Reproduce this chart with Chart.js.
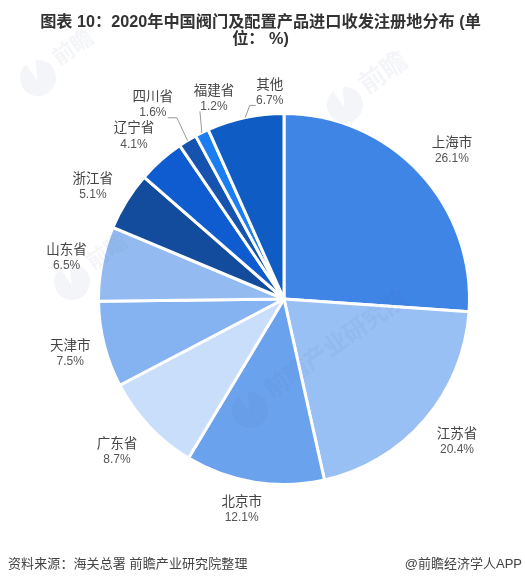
<!DOCTYPE html>
<html>
<head>
<meta charset="utf-8">
<script src="https://cdn.jsdelivr.net/npm/chart.js@4/dist/chart.umd.min.js"></script>
<style>
html, body { margin: 0; padding: 0; background: #fff; }
#wrap { position: relative; width: 525px; height: 583px; overflow: hidden; }
#pie { position: absolute; left: 0; top: 0; }
.txt { position: absolute; font-family: "Liberation Sans", "Noto Sans CJK SC", sans-serif; white-space: nowrap; }
#title { left: 0; width: 521px; top: 13px; text-align: center; font-size: 16.2px; line-height: 17px; font-weight: bold; color: #333; }
#source { left: 8px; top: 553px; font-size: 13px; color: #444; letter-spacing: 0.1px; }
#brand { right: 3px; top: 553px; font-size: 13px; color: #444; }
</style>
</head>
<body>
<div id="wrap">
  <canvas id="pie" width="525" height="583"></canvas>
  <div class="txt" id="title">图表 10：2020年中国阀门及配置产品进口收发注册地分布 (单<br>位： %)</div>
  <div class="txt" id="source">资料来源：海关总署 前瞻产业研究院整理</div>
  <div class="txt" id="brand">@前瞻经济学人APP</div>
</div>
<script>
const categories = ['上海市', '江苏省', '北京市', '广东省', '天津市', '山东省', '浙江省', '辽宁省', '四川省', '福建省', '其他'];
const shares = [26.1, 20.4, 12.1, 8.7, 7.5, 6.5, 5.1, 4.1, 1.6, 1.2, 6.7];
const sliceColors = ['#3f85e5', '#99c0f5', '#6ba2ee', '#c8defb', '#85b2f0', '#94bbf1', '#134c9c', '#0f5bd0', '#1553ae', '#1a7df0', '#0f5cc4'];

// hand nudges so the labels sit where the reference has them
const labelShift = {
    '上海市': [6, 2], '江苏省': [5, -3], '北京市': [-7, -9], '广东省': [-6, 0], '天津市': [1, -1],
    '山东省': [0, 0], '浙江省': [-3, 4], '辽宁省': [-3, 2], '四川省': [-16, -6], '福建省': [28, -3], '其他': [32, 9]
};
// leader line points, relative to the label centre
const leaders = {
    '四川省': [[24, 14], [15, 14]],
    '福建省': [[-14, 14]],
    '其他': [[-20, 14], [-14, 14]]
};
// faint logo marks behind everything: x, y, text, text size
const watermarks = [
    [38, 78, '前瞻', 22], [345, 105, '前瞻', 26], [72, 282, '前瞻', 22], [250, 410, '前瞻产业研究院', 24]
];

function drawWatermark(ctx, x, y, text, size) {
    ctx.save();
    ctx.fillStyle = 'rgba(70,90,130,0.06)';
    ctx.translate(x, y);
    ctx.rotate(-35 * Math.PI / 180);
    ctx.beginPath();
    ctx.arc(0, 0, 18, -1.1, 4.6);
    ctx.lineTo(-2, 2);
    ctx.closePath();
    ctx.fill();
    ctx.font = 'bold ' + size + 'px "Noto Sans CJK SC"';
    ctx.textAlign = 'left';
    ctx.textBaseline = 'middle';
    ctx.fillText(text, 24, -6);
    ctx.restore();
}

const sliceLabels = {
    id: 'sliceLabels',
    afterDatasetsDraw(chart) {
        const ctx = chart.ctx;
        watermarks.forEach(w => drawWatermark(ctx, w[0], w[1], w[2], w[3]));
        chart.getDatasetMeta(0).data.forEach((arc, i) => {
            const name = categories[i];
            const mid = (arc.startAngle + arc.endAngle) / 2;
            const shift = labelShift[name];
            const lx = arc.x + Math.cos(mid) * (arc.outerRadius + 36) + shift[0];
            const ly = arc.y + Math.sin(mid) * (arc.outerRadius + 36) + shift[1];

            if (leaders[name]) {
                ctx.strokeStyle = '#999';
                ctx.lineWidth = 1;
                ctx.beginPath();
                ctx.moveTo(arc.x + Math.cos(mid) * arc.outerRadius, arc.y + Math.sin(mid) * arc.outerRadius);
                leaders[name].forEach(p => ctx.lineTo(lx + p[0], ly + p[1]));
                ctx.stroke();
            }

            ctx.textAlign = 'center';
            ctx.textBaseline = 'middle';
            ctx.fillStyle = '#444';
            ctx.font = '13.5px "Noto Sans CJK SC"';
            ctx.fillText(name, lx, ly - 8);
            ctx.fillStyle = '#555';
            ctx.font = '12px "Liberation Sans"';
            ctx.fillText(shares[i] + '%', lx, ly + 9);
        });
    }
};

new Chart(document.getElementById('pie').getContext('2d'), {
    type: 'pie',
    data: {
        labels: categories,
        datasets: [{
            data: shares,
            backgroundColor: sliceColors,
            borderColor: '#fff',
            borderWidth: 3
        }]
    },
    options: {
        responsive: false,
        animation: false,
        devicePixelRatio: 1,
        layout: { padding: { left: 97, right: 54, top: 112, bottom: 97 } },
        plugins: { legend: { display: false }, tooltip: { enabled: false } }
    },
    plugins: [sliceLabels]
});
</script>
</body>
</html>
